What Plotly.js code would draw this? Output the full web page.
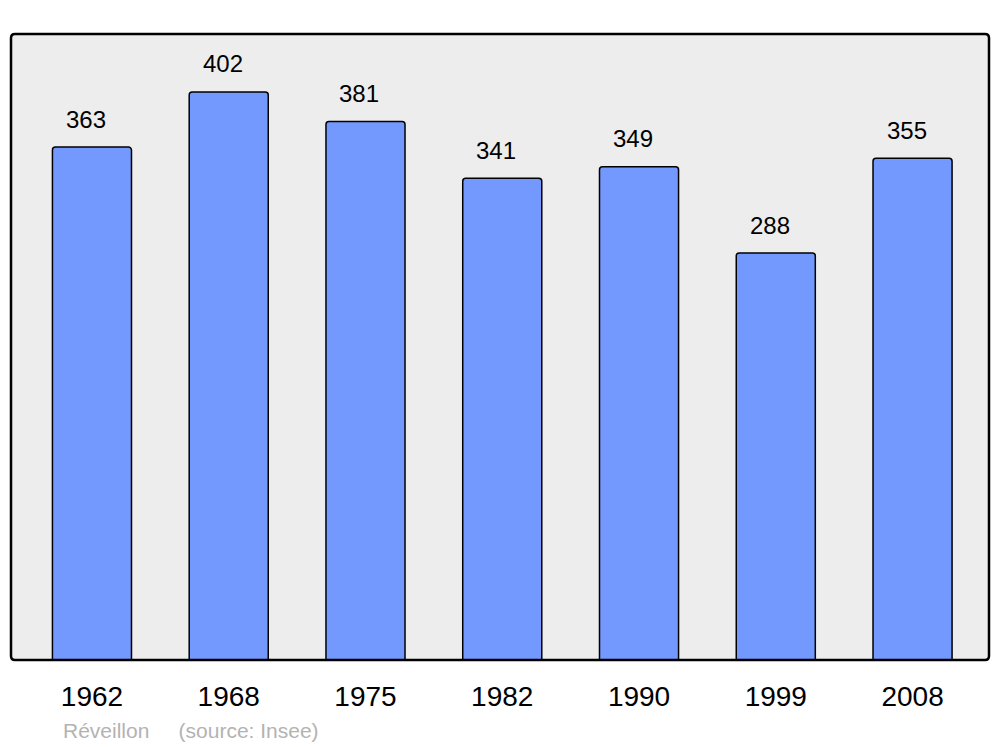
<!DOCTYPE html>
<html>
<head>
<meta charset="utf-8">
<script src="https://cdn.plot.ly/plotly-3.0.1.min.js"></script>
<style>html,body{margin:0;padding:0;background:#fff;}#chart{width:1000px;height:747px;}</style>
</head>
<body>
<div id="chart"></div>
<script>
const years = ["1962", "1968", "1975", "1982", "1990", "1999", "2008"];
const population = [363, 402, 381, 341, 349, 288, 355];
const footerText = "Réveillon&nbsp;&nbsp;&nbsp;&nbsp;&nbsp;(source: Insee)";

const rx = 4 / 978, ry = 4 / 626;
function roundedRectPath(x0, y0, x1, y1) {
  return `M ${x0 + rx},${y0} L ${x1 - rx},${y0} Q ${x1},${y0} ${x1},${y0 + ry} ` +
         `L ${x1},${y1 - ry} Q ${x1},${y1} ${x1 - rx},${y1} L ${x0 + rx},${y1} ` +
         `Q ${x0},${y1} ${x0},${y1 - ry} L ${x0},${y0 + ry} Q ${x0},${y0} ${x0 + rx},${y0} Z`;
}

const trace = {
  type: "bar",
  x: years,
  y: population,
  width: 0.578,
  marker: {
    color: "#7399ff",
    line: { color: "#000000", width: 1.5 },
    cornerradius: 3
  },
  hoverinfo: "none"
};

const annotations = years.map((yr, i) => ({
  x: i, y: population[i], xref: "x", yref: "y",
  text: String(population[i]), showarrow: false,
  xshift: -6,
  yanchor: "middle", yshift: 28,
  font: { family: "Liberation Sans, Arial, sans-serif", size: 24, color: "#000" }
}));
annotations.push({
  xref: "paper", yref: "paper", x: 50 / 978, y: -(730 - 660) / 626,
  xanchor: "left", yanchor: "middle", showarrow: false,
  text: footerText,
  font: { family: "Liberation Sans, Arial, sans-serif", size: 21, color: "#b3b3b3" }
});

const layout = {
  width: 1000, height: 747,
  margin: { l: 11, r: 11, t: 34, b: 87 },
  paper_bgcolor: "#ffffff",
  plot_bgcolor: "rgba(0,0,0,0)",
  showlegend: false,
  xaxis: {
    type: "category",
    range: [-0.592, 6.559],
    showgrid: false, zeroline: false, showline: false,
    ticks: "outside", ticklen: 11, tickcolor: "rgba(0,0,0,0)",
    tickfont: { family: "Liberation Sans, Arial, sans-serif", size: 28, color: "#000" },
    fixedrange: true
  },
  yaxis: {
    range: [0, 443],
    showgrid: false, zeroline: false, showline: false,
    showticklabels: false, ticks: "",
    fixedrange: true
  },
  shapes: [
    { type: "path", xref: "paper", yref: "paper", layer: "below",
      path: roundedRectPath(0, 0, 1, 1), fillcolor: "#ededed", line: { width: 0 } },
    { type: "path", xref: "paper", yref: "paper", layer: "above",
      path: roundedRectPath(0, 0, 1, 1), fillcolor: "rgba(0,0,0,0)",
      line: { color: "#000000", width: 2.5 } }
  ],
  annotations: annotations
};

Plotly.newPlot("chart", [trace], layout, { displayModeBar: false, staticPlot: true });
</script>
</body>
</html>
